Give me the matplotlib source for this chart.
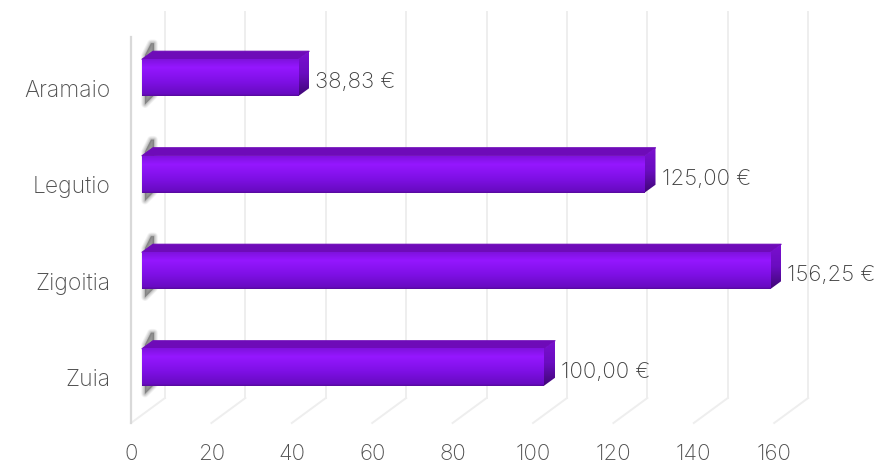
import numpy as np
import matplotlib.pyplot as plt
from matplotlib.patches import Polygon
from matplotlib.colors import LinearSegmentedColormap
from matplotlib.transforms import Affine2D

categories = ['Aramaio', 'Legutio', 'Zigoitia', 'Zuia']
values = [38.83, 125.00, 156.25, 100.00]
x_ticks = [0, 20, 40, 60, 80, 100, 120, 140, 160]

W, H = 881, 463
left, right, top, bottom = 131, 774.2, 37, 423

plt.rcParams['font.family'] = ['Inter', 'DejaVu Sans']
plt.rcParams['font.weight'] = 'light'

fig = plt.figure(figsize=(W / 100, H / 100), dpi=100)
ax = fig.add_axes([left / W, 1 - bottom / H, (right - left) / W, (bottom - top) / H])
ax.set_xlim(0, 160)
ax.set_ylim(3.5, -0.5)
for s in ax.spines.values():
    s.set_visible(False)

# pixels to data units
ux = 160 / (right - left)
uy = 4 / (bottom - top)

ax.set_xticks(x_ticks)
ax.set_yticks(range(len(categories)))
ax.set_yticklabels(categories)
ax.tick_params(axis='x', length=0, pad=15, labelsize=16, labelcolor='#505050')
ax.tick_params(axis='y', length=0, pad=15, labelsize=16.5, labelcolor='#505050')
for lab in ax.get_yticklabels():
    lab.set_transform(lab.get_transform() + Affine2D().translate(0, -3))

# walls and floor
wall_dx, wall_dy = 34 * ux, 25 * uy
for t in x_ticks:
    ax.plot([t + wall_dx] * 2, [3.5 - wall_dy, -0.5 - wall_dy], color='#eeeeee', lw=1.4,
            clip_on=False, zorder=1)
    ax.plot([t, t + wall_dx], [3.5, 3.5 - wall_dy], color='#eeeeee', lw=1.4,
            clip_on=False, zorder=1)
ax.plot([0, 0], [3.5, -0.5], color='#d9d9d9', lw=1.6, clip_on=False, zorder=1)

# bars
bar_h = 37 * uy
off_x, off_y = 11 * ux, 7.5 * uy
dep_x, dep_y = 11 * ux, 8 * uy
front_cmap = LinearSegmentedColormap.from_list(
    'front', [(0, '#7f12de'), (0.22, '#9517ff'), (0.6, '#7f10e6'), (0.95, '#680bc2'), (1, '#570a9e')])
side_cmap = LinearSegmentedColormap.from_list(
    'side', [(0, '#7a10cf'), (0.5, '#6a0cc0'), (1, '#3f0775')])
grad = np.linspace(0, 1, 64).reshape(-1, 1)

for i, v in enumerate(values):
    x0 = off_x
    x1 = v + off_x
    y0 = i - off_y - bar_h / 2
    y1 = i - off_y + bar_h / 2

    # shadow on the side wall
    shadow = [(x0 + 3 * ux, y0 - 4 * uy), (x0 + 9 * ux, y0 - 16 * uy), (x0 + 12 * ux, y0 - 16 * uy),
              (x0 + 12 * ux, y1 - 1 * uy), (x0 + 3 * ux, y1 + 8 * uy)]
    for lw, a in [(5.5, 0.06), (4.5, 0.07), (3.5, 0.08), (2.5, 0.1), (1.5, 0.12), (0.5, 0.14), (0, 0.16)]:
        ax.add_patch(Polygon(shadow, closed=True, facecolor=(0.35, 0.35, 0.35, a),
                             edgecolor=(0.35, 0.35, 0.35, a), lw=lw, joinstyle='round',
                             clip_on=False, zorder=2))

    # top face
    ax.add_patch(Polygon([(x0, y0), (x0 + dep_x, y0 - dep_y), (x1 + dep_x, y0 - dep_y), (x1, y0)],
                         closed=True, facecolor='#6e0bb8', edgecolor='#6e0bb8', lw=0.8,
                         joinstyle='round', clip_on=False, zorder=3))

    # right face, shaded from top to bottom
    im = ax.imshow(grad, cmap=side_cmap, extent=(x1, x1 + dep_x, y1, y0 - dep_y), aspect='auto',
                   zorder=3)
    im.set_clip_path(Polygon([(x1, y0), (x1 + dep_x, y0 - dep_y), (x1 + dep_x, y1 - dep_y), (x1, y1)],
                             closed=True, transform=ax.transData))
    im.set_clip_box(fig.bbox)

    # front face
    ax.imshow(grad, cmap=front_cmap, extent=(x0, x1, y1, y0), aspect='auto', clip_on=False, zorder=4)

    ax.annotate(f'{v:.2f}'.replace('.', ',') + ' €', xy=(v, i), xytext=(28, 3),
                textcoords='offset pixels', va='center', ha='left', fontsize=16,
                color='#404040', zorder=5, annotation_clip=False)

ax.set_xlim(0, 160)
ax.set_ylim(3.5, -0.5)
fig.savefig('out.png', dpi=100)
